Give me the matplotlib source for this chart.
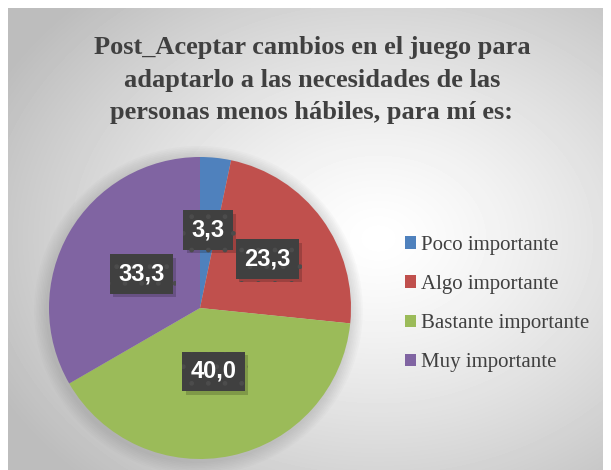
import numpy as np
import matplotlib.pyplot as plt
import matplotlib.patheffects as pe

categories = ['Poco importante', 'Algo importante', 'Bastante importante', 'Muy importante']
values = [3.3, 23.3, 40.0, 33.3]
labels = ['3,3', '23,3', '40,0', '33,3']
colors = ['#4F81BD', '#C0504D', '#9BBB59', '#8064A2']
# how far out each data label sits (fraction of radius)
label_r = [0.52, 0.55, 0.43, 0.45]

title = ('Post_Aceptar cambios en el juego para\n'
         'adaptarlo a las necesidades de las\n'
         'personas menos hábiles, para mí es:')

W, H = 611, 470
fig = plt.figure(figsize=(W / 100, H / 100), dpi=100)
fig.patch.set_facecolor('white')

# chart area with radial gradient background
bg = fig.add_axes([8 / W, 0, 595 / W, 462 / H])
bg.set_axis_off()
yy, xx = np.mgrid[0:462, 0:595]
d = np.sqrt(((xx - 370) / 430.0) ** 2 + ((yy - 230) / 330.0) ** 2)
shade = np.clip(1.0 - 0.26 * d ** 1.3, 0.74, 1.0)
bg.imshow(shade, cmap='gray', vmin=0, vmax=1, aspect='auto', interpolation='bilinear')

# title
fig.text(312 / W, 1 - 80 / H, title, ha='center', va='center',
         fontsize=19, fontweight='bold', family='Liberation Serif',
         color='#404040', linespacing=1.55)

# pie
cx, cy, r = 200, 308, 151
ax = fig.add_axes([(cx - r) / W, (H - cy - r) / H, 2 * r / W, 2 * r / H])
ax.set_axis_off()

# soft shadow under the pie
for k in range(8):
    ax.add_patch(plt.Circle((-0.01, -0.015), 1.0 + 0.011 * (k + 1), color='#707070',
                            alpha=0.03, lw=0, zorder=0, clip_on=False))

wedges, _ = ax.pie(values, colors=colors, startangle=90, counterclock=False,
                   wedgeprops=dict(linewidth=0, clip_on=False))
ax.set_xlim(-1, 1)
ax.set_ylim(-1, 1)

for w, lab, rr in zip(wedges, labels, label_r):
    ang = np.deg2rad((w.theta1 + w.theta2) / 2)
    x, y = rr * np.cos(ang), rr * np.sin(ang)
    t = ax.text(x, y, lab, ha='center', va='center', fontsize=17, fontweight='bold',
                family='Liberation Sans', color='white',
                bbox=dict(boxstyle='square,pad=0.35', fc='#404040', ec='#4c4c4c',
                          lw=0, hatch='.'))
    t.get_bbox_patch().set_path_effects([
        pe.SimplePatchShadow(offset=(2.5, -2.5), shadow_rgbFace='black', alpha=0.18),
        pe.Normal()])

leg = fig.legend(wedges, categories, loc='upper left',
                 bbox_to_anchor=(386 / W, 1 - 217 / H),
                 frameon=False, prop=dict(family='Liberation Serif', size=15),
                 handlelength=0.55, handleheight=0.55, handletextpad=0.25,
                 labelspacing=0.97, labelcolor='#404040')

fig.savefig('out.png', dpi=100)
